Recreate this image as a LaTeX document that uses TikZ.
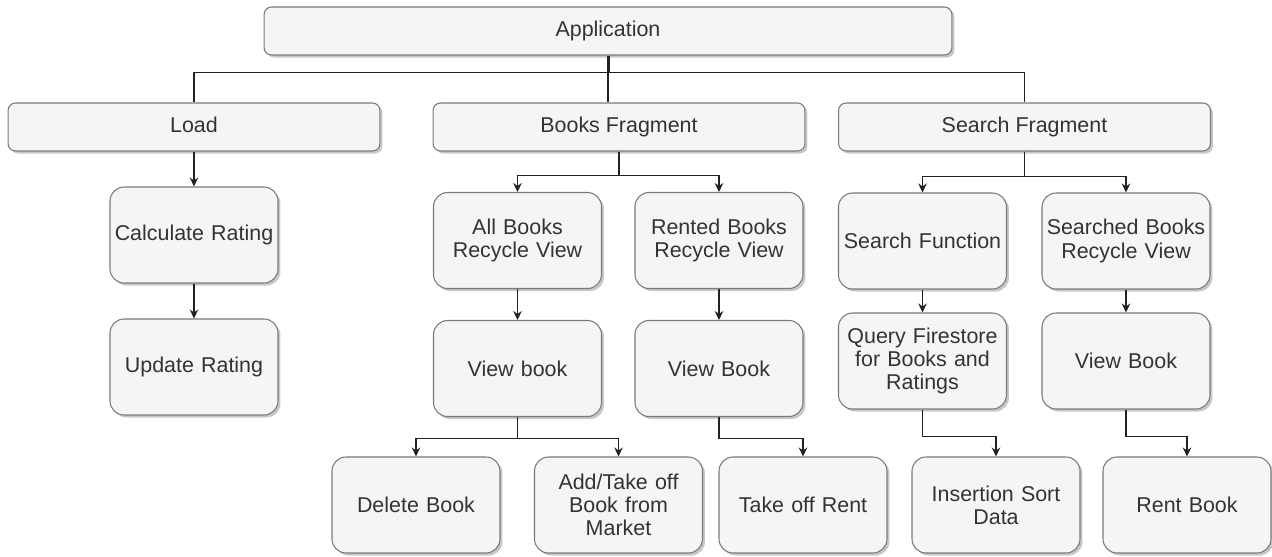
\documentclass[tikz,border=0pt]{standalone}
\usepackage{fontspec}
\setmainfont{Liberation Sans}
\usepackage{tikz}
\usetikzlibrary{arrows.meta,shadows,calc,positioning}
\definecolor{boxfill}{HTML}{F5F5F5}
\definecolor{boxline}{HTML}{7A7A7A}
\definecolor{boxtext}{HTML}{333333}
\definecolor{wire}{HTML}{222222}
\tikzset{%
box/.style={draw=boxline, fill=boxfill, line width=0.6pt, text=boxtext,
  align=center, inner sep=2pt,
  font=\fontsize{12.2}{13.2}\selectfont,
  drop shadow={shadow xshift=0.05cm, shadow yshift=-0.05cm, fill=black, opacity=0.22}},
widebox/.style={box, rounded corners=0.15cm, minimum width=7.44cm, minimum height=0.96cm,
  text height=1.6ex, text depth=0.4ex},
smallbox/.style={box, rounded corners=0.28cm, text width=3.2cm,
  minimum width=3.36cm, minimum height=1.92cm},
link/.style={draw=wire, line width=0.6pt},
arr/.style={link, -{Stealth[length=1.8mm, width=1.7mm, inset=0.6mm]}}
}

\begin{document}
\begin{tikzpicture}[x=0.02cm, y=-0.02cm]
\useasboundingbox (0,0) rectangle (1272,556);

% top row
\node[widebox, minimum width=13.76cm] (app) at (608,31) {Application};
\node[widebox] (load) at (194,127) {Load};
\node[widebox] (books) at (619,127) {Books Fragment};
\node[widebox] (search) at (1024.5,127) {Search Fragment};

% load column
\node[smallbox] (calc) at (194,235) {Calculate Rating};
\node[smallbox] (update) at (194,367) {Update Rating};

% books column
\node[smallbox] (allbooks) at (517.5,240.5) {All Books\\Recycle View};
\node[smallbox] (rented) at (719,240.5) {Rented Books\\Recycle View};
\node[smallbox] (viewall) at (517.5,368.5) {View book};
\node[smallbox] (viewrented) at (719,368.5) {View Book};
\node[smallbox] (delete) at (416,505) {Delete Book};
\node[smallbox] (addtake) at (618.5,505) {Add/Take off\\Book from\\Market};
\node[smallbox] (takeoff) at (803,505) {Take off Rent};

% search column
\node[smallbox] (searchfn) at (922.5,241) {Search Function};
\node[smallbox] (searched) at (1126,241) {Searched Books\\Recycle View};
\node[smallbox] (query) at (922.5,361) {Query Firestore\\for Books and\\Ratings};
\node[smallbox] (viewsearched) at (1126,361) {View Book};
\node[smallbox] (insertion) at (996,505) {Insertion Sort\\Data};
\node[smallbox] (rent) at (1187,505) {Rent Book};

% application links
\draw[link] (app.south) -- ++(0,17) coordinate (split) -| (load.north);
\draw[link] (split) -| (search.north);
\draw[link] (app.south) -- (app.south |- books.north);
\draw[link] ($(app.south)+(1.8,0)$) -- ($(split)+(1.8,0)$);

\draw[arr] (load.south) -- (load.south |- calc.north);
\draw[arr] (calc) -- (update);

\draw[arr] (books.south) -- ++(0,24) -| (allbooks.north);
\draw[arr] (books.south) -- ++(0,24) -| (rented.north);
\draw[arr] (allbooks) -- (viewall);
\draw[arr] (rented) -- (viewrented);
\draw[arr] (viewall.south) -- ++(0,21) -| (delete.north);
\draw[arr] (viewall.south) -- ++(0,21) -| (addtake.north);
\draw[arr] (viewrented.south) -- ++(0,21) -| (takeoff.north);

\draw[arr] (search.south) -- ++(0,25) -| (searchfn.north);
\draw[arr] (search.south) -- ++(0,25) -| (searched.north);
\draw[arr] (searchfn) -- (query);
\draw[arr] (searched) -- (viewsearched);
\draw[arr] (query.south) -- ++(0,27) -| (insertion.north);
\draw[arr] (viewsearched.south) -- ++(0,27) -| (rent.north);

\end{tikzpicture}
\end{document}
